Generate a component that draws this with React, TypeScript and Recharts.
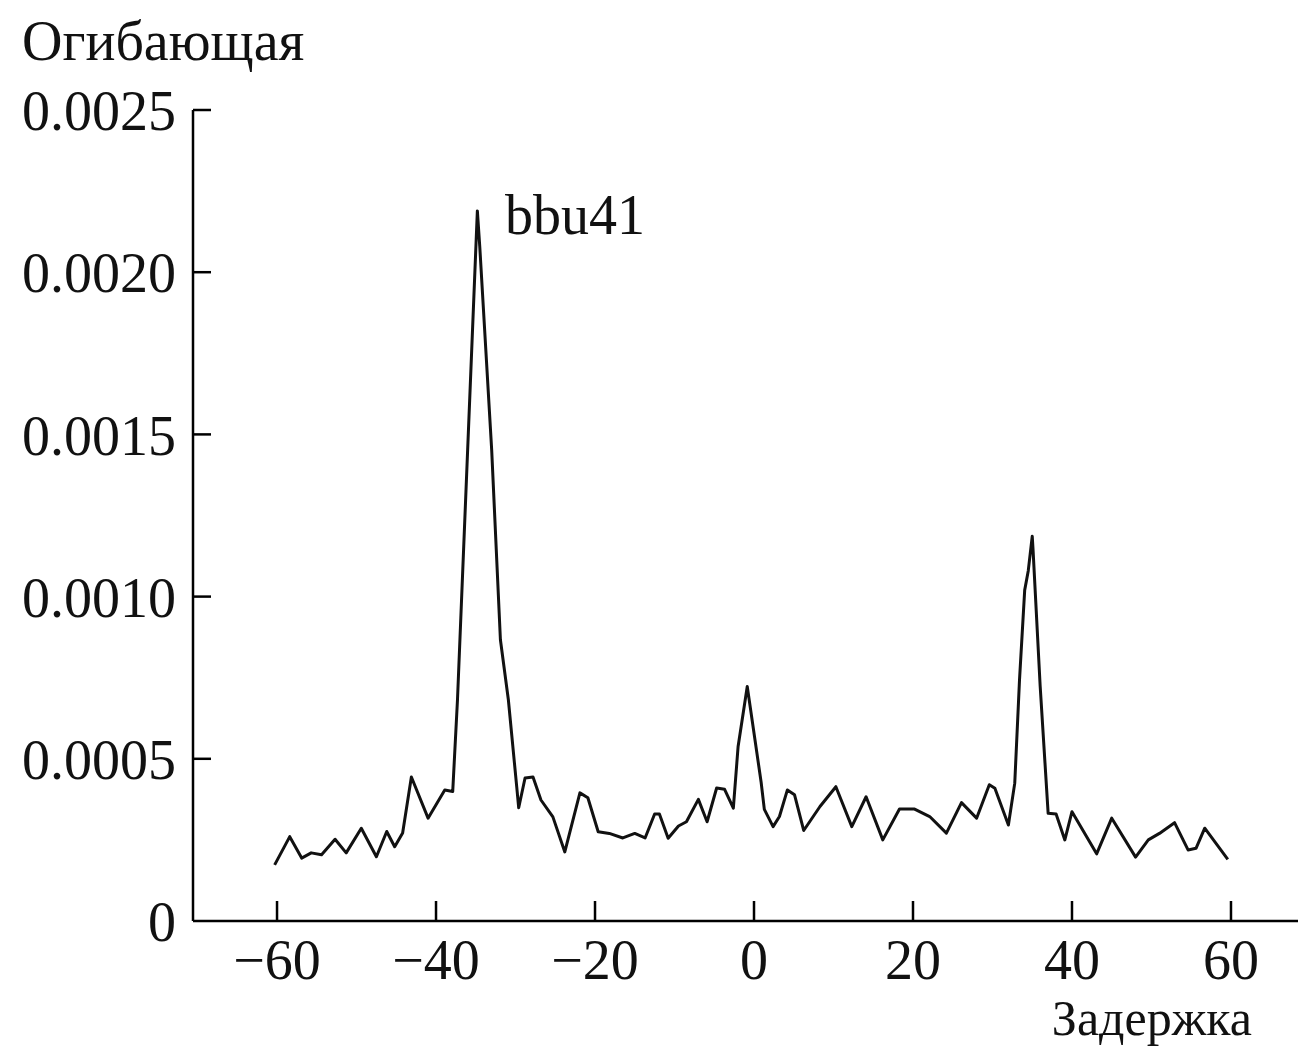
import React from "react";
import { LineChart, Line, XAxis, YAxis } from "recharts";

const lags: number[] = [
  -60.3, -58.4, -56.9, -55.7, -54.4, -52.7, -51.3, -49.4, -47.5, -46.2, -45.2, -44.2, -43.1, -41.0, -38.9,
  -37.9, -37.3, -34.8, -34.5, -33.0, -31.9, -30.9, -29.85, -29.6, -28.8, -27.8, -26.8, -25.3, -23.8, -21.9,
  -20.9, -19.6, -18.2, -16.5, -15.0, -13.7, -12.5, -11.9, -10.8, -9.5, -8.5, -7.0, -5.9, -4.7, -3.7, -2.6,
  -2.0, -0.85, 0.9, 1.3, 2.4, 3.2, 4.2, 5.1, 6.25, 8.3, 10.3, 12.3, 14.1, 16.2, 18.3, 20.2, 22.1, 24.2, 26.1,
  28.0, 29.6, 30.3, 32.0, 32.8, 33.4, 34.05, 34.5, 35.0, 35.1, 36.0, 37.0, 38.0, 39.1, 40.0, 43.1, 45.0, 48.0,
  49.6, 51.0, 52.9, 54.6, 55.6, 56.7, 59.6,
];

const envelope: number[] = [
  0.000173, 0.00026, 0.000194, 0.00021, 0.000204, 0.000252, 0.00021, 0.000286, 0.000198, 0.000276, 0.000229,
  0.000271, 0.000444, 0.000317, 0.000404, 0.000399, 0.000682, 0.002189, 0.00208, 0.001453, 0.000867, 0.000682,
  0.000414, 0.000349, 0.000441, 0.000444, 0.000373, 0.000321, 0.000213, 0.000395, 0.00038, 0.000275, 0.00027,
  0.000256, 0.00027, 0.000256, 0.00033, 0.00033, 0.000255, 0.000293, 0.000306, 0.000375, 0.000306, 0.00041,
  0.000406, 0.000348, 0.000538, 0.000723, 0.000427, 0.000344, 0.000291, 0.000322, 0.000404, 0.000389, 0.000279,
  0.000353, 0.000414, 0.000291, 0.000383, 0.00025, 0.000345, 0.000345, 0.000322, 0.000271, 0.000365, 0.000317,
  0.00042, 0.000409, 0.000296, 0.000425, 0.000744, 0.00102, 0.00108, 0.001186, 0.001145, 0.000723, 0.000332,
  0.00033, 0.00025, 0.000337, 0.000207, 0.000317, 0.000197, 0.00025, 0.00027, 0.000303, 0.000219, 0.000224,
  0.000286, 0.00019,
];

const xTicks: number[] = [-60, -40, -20, 0, 20, 40, 60];
const yTicks: number[] = [0, 0.0005, 0.001, 0.0015, 0.002, 0.0025];
const yTickLabels: string[] = ["0", "0.0005", "0.0010", "0.0015", "0.0020", "0.0025"];

const yAxisTitle = "Огибающая";
const xAxisTitle = "Задержка";
const peakLabel = "bbu41";

const data = lags.map((lag, i) => ({ lag, value: envelope[i] }));

const FONT = "'Liberation Serif', 'Times New Roman', serif";
const FS = 56;

const XTick = (props: any) => {
  const { x, y, payload } = props;
  const v = payload.value as number;
  const label = v < 0 ? "\u2212" + Math.abs(v) : String(v);
  return (
    <g>
      <line x1={x} x2={x} y1={y} y2={y - 20} stroke="#000" strokeWidth={2.5} />
      <text x={x} y={y + 58} textAnchor="middle" fontFamily={FONT} fontSize={FS} fill="#111">
        {label}
      </text>
    </g>
  );
};

const YTick = (props: any) => {
  const { x, y, payload } = props;
  const i = yTicks.indexOf(payload.value);
  const label = i >= 0 ? yTickLabels[i] : String(payload.value);
  return (
    <g>
      {payload.value !== 0 && (
        <line x1={x} x2={x + 18} y1={y} y2={y} stroke="#000" strokeWidth={2.5} />
      )}
      <text x={x - 17} y={y} dy="0.36em" textAnchor="end" fontFamily={FONT} fontSize={FS} fill="#111">
        {label}
      </text>
    </g>
  );
};

export default function App() {
  return (
    <div style={{ position: "absolute", left: 0, top: 0, width: 1298, height: 1049, background: "#fff" }}>
      <LineChart
        width={1298}
        height={1049}
        data={data}
        margin={{ top: 110, right: 0, bottom: 0, left: 0 }}
      >
        <XAxis
          dataKey="lag"
          type="number"
          domain={[-70.57, 68.43]}
          allowDataOverflow
          ticks={xTicks}
          tick={<XTick />}
          tickSize={0}
          tickMargin={0}
          tickLine={false}
          height={128}
          axisLine={{ stroke: "#000", strokeWidth: 2.5 }}
        />
        <YAxis
          type="number"
          domain={[0, 0.0025]}
          ticks={yTicks}
          tick={<YTick />}
          tickSize={0}
          tickMargin={0}
          tickLine={false}
          width={193}
          axisLine={{ stroke: "#000", strokeWidth: 2.5 }}
        />
        <Line
          dataKey="value"
          type="linear"
          stroke="#111"
          strokeWidth={3}
          strokeLinejoin="round"
          dot={false}
          isAnimationActive={false}
        />
      </LineChart>
      <svg
        width={1298}
        height={1049}
        style={{ position: "absolute", left: 0, top: 0, pointerEvents: "none" }}
      >
        <text x={22} y={60} fontFamily={FONT} fontSize={FS} fill="#111">
          {yAxisTitle}
        </text>
        <text x={1252} y={1035} textAnchor="end" fontFamily={FONT} fontSize={50} fill="#111">
          {xAxisTitle}
        </text>
        <text x={505} y={234} fontFamily={FONT} fontSize={FS} fill="#111">
          {peakLabel}
        </text>
      </svg>
    </div>
  );
}
